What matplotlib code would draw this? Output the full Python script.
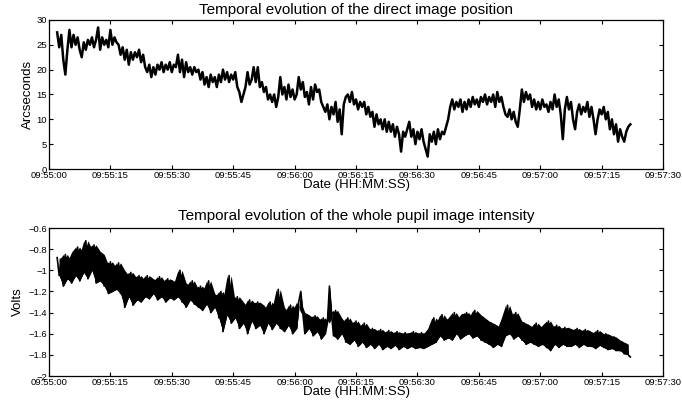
import numpy as np
import matplotlib
matplotlib.use('Agg')
import matplotlib.pyplot as plt

plt.rcParams['font.family'] = ['Liberation Sans', 'DejaVu Sans']

# tick labels for the time axis (seconds after 09:55:00)
tick_secs = [0, 15, 30, 45, 60, 75, 90, 105, 120, 135, 150]
tick_labels = ['09:55:00', '09:55:15', '09:55:30', '09:55:45', '09:56:00', '09:56:15',
               '09:56:30', '09:56:45', '09:57:00', '09:57:15', '09:57:30']

# first and last sample time (s), samples every 0.5 s
t_start = 2.0
t_end = 142.0

# direct image position (arcseconds)
position = [
    27.5, 24.5, 27, 22, 19, 24, 28, 24.5, 27, 25,
    26.5, 24, 22.5, 25.5, 24, 26, 25, 26.5, 24.5, 26,
    28.5, 24, 26.5, 25, 26, 24.5, 28, 25, 26.5, 25.5,
    25, 23, 24.5, 22, 24, 21, 23.5, 22, 23.5, 22.5,
    24, 21.5, 23, 20.5, 19.5, 21, 18.5, 20.5, 19, 21,
    20, 21.5, 19.5, 21, 20, 21.5, 19.5, 21, 20.5, 23,
    19.5, 22, 18.5, 21.5, 19.5, 20.5, 19, 20.5, 19.5, 20,
    18, 19.5, 17, 18.5, 16.5, 19, 17.5, 18.5, 16.5, 19,
    17.5, 20, 18, 19.5, 17.5, 19, 18, 19.5, 16.5, 15.5,
    13.5, 15, 16.5, 19.5, 17, 18, 20.5, 17.5, 20.5, 16.5,
    17.5, 15.5, 16.5, 14, 15, 13.5, 15, 12.5, 14.5, 18.5,
    15, 16.5, 14, 17, 14.5, 16, 14, 15, 18.5, 16,
    17.5, 14.5, 15.5, 13, 16.5, 14, 17, 15.5, 16, 13.5,
    12.5, 11.5, 13, 10, 12.5, 11, 13.5, 9.5, 12, 7,
    13, 14.5, 15, 13.5, 15.5, 13, 14, 12, 13.5, 12.5,
    13.5, 11, 12.5, 10.5, 11.5, 8.5, 11, 9, 10, 8,
    10, 7.5, 9.5, 7.5, 9, 6.5, 8.5, 7, 3.5, 7.5,
    6.5, 8, 9.5, 6.5, 8, 5, 7.5, 6, 8, 5.5,
    4, 2.5, 7, 5.5, 7.5, 5, 8, 6, 7.5, 7,
    8.5, 10, 12.5, 14, 12, 13.5, 12.5, 14, 11.5, 13.5,
    12, 14, 12.5, 14.5, 13, 14, 12.5, 14.5, 13.5, 15,
    13, 14.5, 13.5, 15, 12.5, 15.5, 13.5, 14.5, 12.5, 11,
    10.5, 12, 10, 11.5, 9.5, 8.5, 12, 16, 13.5, 15.5,
    14, 15, 12.5, 14, 12, 13.5, 12, 14, 12.5, 13,
    11.5, 13.5, 12, 15, 12.5, 14, 11, 6, 12, 14.5,
    12, 13.5, 10, 8, 11.5, 13, 11, 12.5, 11.5, 13.5,
    10.5, 12.5, 10, 7, 10, 12, 11, 12.5, 10, 11.5,
    8, 10, 7, 9, 5.5, 8, 6.5, 5.5, 7.5, 8.5,
    9,
]

# whole pupil image intensity (volts), alternating upper / lower excursions
intensity = [
    -0.88, -1.05, -0.9, -1.15, -0.85, -1.08, -0.92, -1.12, -0.83, -1.05,
    -0.78, -1.1, -0.85, -1.02, -0.72, -1.08, -0.8, -1.0, -0.76, -1.12,
    -0.82, -1.1, -0.85, -1.15, -0.95, -1.22, -0.92, -1.2, -0.98, -1.18,
    -0.93, -1.22, -1.0, -1.35, -1.05, -1.25, -1.02, -1.33, -1.08, -1.28,
    -1.05, -1.3, -1.1, -1.25, -1.05, -1.27, -1.08, -1.22, -1.1, -1.28,
    -1.06, -1.25, -1.12, -1.3, -1.08, -1.26, -1.1, -1.28, -1.12, -1.25,
    -1.0, -1.3, -1.12, -1.35, -1.15, -1.28, -1.1, -1.32, -1.18, -1.35,
    -1.15, -1.38, -1.2, -1.32, -1.1, -1.4, -1.22, -1.35, -1.25, -1.45,
    -1.2, -1.58, -1.28, -1.42, -1.05, -1.5, -1.3, -1.45, -1.25, -1.55,
    -1.3, -1.5, -1.35, -1.6, -1.28, -1.48, -1.32, -1.55, -1.3, -1.52,
    -1.33, -1.6, -1.38, -1.5, -1.3, -1.56, -1.36, -1.5, -1.18, -1.55,
    -1.35, -1.58, -1.4, -1.52, -1.33, -1.6, -1.38, -1.55, -1.3, -1.2,
    -1.4, -1.6, -1.42, -1.55, -1.45, -1.62, -1.43, -1.58, -1.48, -1.65,
    -1.45, -1.6, -1.5, -1.15, -1.4, -1.62, -1.38, -1.65, -1.45, -1.6,
    -1.5, -1.68, -1.45, -1.7, -1.52, -1.66, -1.48, -1.72, -1.55, -1.68,
    -1.5, -1.73, -1.56, -1.7, -1.55, -1.74, -1.58, -1.7, -1.56, -1.75,
    -1.6, -1.72, -1.57, -1.74, -1.6, -1.71, -1.58, -1.75, -1.6, -1.72,
    -1.59, -1.74, -1.6, -1.72, -1.58, -1.74, -1.6, -1.73, -1.59, -1.74,
    -1.6, -1.72, -1.55, -1.7, -1.45, -1.68, -1.5, -1.62, -1.42, -1.66,
    -1.48, -1.64, -1.45, -1.66, -1.4, -1.6, -1.47, -1.65, -1.42, -1.62,
    -1.4, -1.6, -1.45, -1.64, -1.38, -1.62, -1.42, -1.66, -1.45, -1.68,
    -1.48, -1.7, -1.5, -1.73, -1.52, -1.7, -1.55, -1.72, -1.45, -1.62,
    -1.33, -1.6, -1.45, -1.65, -1.4, -1.62, -1.48, -1.66, -1.5, -1.7,
    -1.52, -1.68, -1.55, -1.7, -1.5, -1.72, -1.55, -1.7, -1.52, -1.73,
    -1.48, -1.76, -1.55, -1.7, -1.52, -1.73, -1.56, -1.7, -1.54, -1.72,
    -1.55, -1.72, -1.57, -1.7, -1.55, -1.73, -1.58, -1.7, -1.56, -1.72,
    -1.58, -1.72, -1.6, -1.74, -1.57, -1.71, -1.6, -1.73, -1.6, -1.75,
    -1.62, -1.74, -1.63, -1.76, -1.66, -1.76, -1.68, -1.79, -1.7, -1.8,
    -1.82,
]

t1 = np.linspace(t_start, t_end, len(position))
t2 = np.linspace(t_start, t_end, len(intensity))
iv = np.array(intensity)

fig = plt.figure(figsize=(6.82, 4.05), dpi=100)
ax1 = fig.add_axes([0.0718, 0.5827, 0.9005, 0.368])
ax2 = fig.add_axes([0.0718, 0.0716, 0.9005, 0.3654])


def style(ax):
    ax.set_xlim(0, 150)
    ax.set_xticks(tick_secs)
    ax.set_xticklabels(tick_labels)
    ax.tick_params(direction='in', top=True, right=True, labelsize=6.8,
                   length=3, width=0.8, pad=1.5)
    for s in ax.spines.values():
        s.set_linewidth(0.9)
    ax.set_xlabel('Date (HH:MM:SS)', fontsize=9.5, labelpad=-1)


ax1.plot(t1, position, color='black', linewidth=1.8)
ax1.set_ylim(0, 30)
ax1.set_yticks([0, 5, 10, 15, 20, 25, 30])
ax1.set_ylabel('Arcseconds', fontsize=9.5, labelpad=2)
ax1.set_title('Temporal evolution of the direct image position', fontsize=11, pad=4)
style(ax1)

# dense noisy trace: fill between neighbouring upper and lower excursions
ax2.fill_between(t2[1::2], iv[0:-1:2], iv[1::2], color='black', linewidth=0)
ax2.fill_between(t2[1::2], iv[2::2], iv[1::2], color='black', linewidth=0)
ax2.plot(t2, intensity, color='black', linewidth=1.2)
ax2.set_ylim(-2, -0.6)
ax2.set_yticks([-2, -1.8, -1.6, -1.4, -1.2, -1, -0.8, -0.6])
ax2.set_yticklabels(['\u22122', '\u22121.8', '\u22121.6', '\u22121.4', '\u22121.2',
                     '\u22121', '\u22120.8', '\u22120.6'])
ax2.set_ylabel('Volts', fontsize=9.5, labelpad=3)
ax2.set_title('Temporal evolution of the whole pupil image intensity', fontsize=11, pad=6)
style(ax2)

fig.savefig('out.png', dpi=100)
